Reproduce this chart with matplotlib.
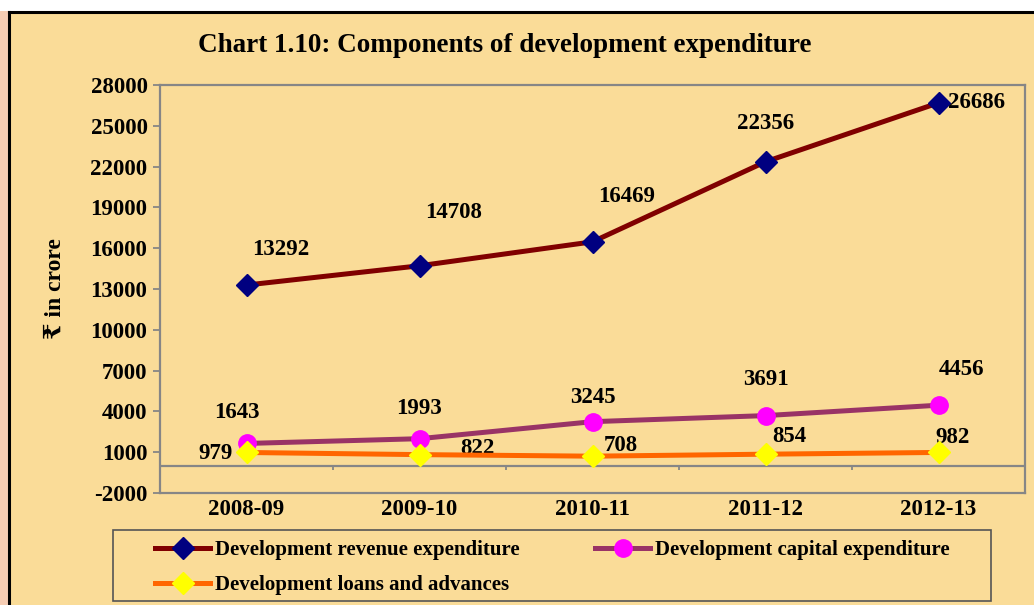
import matplotlib
matplotlib.use("Agg")
import matplotlib.pyplot as plt
import numpy as np
from matplotlib.patches import Rectangle

years = ["2008-09", "2009-10", "2010-11", "2011-12", "2012-13"]
revenue = [13292, 14708, 16469, 22356, 26686]
capital = [1643, 1993, 3245, 3691, 4456]
loans = [979, 822, 708, 854, 982]
yticks = list(range(-2000, 28001, 3000))

BG = "#FADC98"
GRAY = "#868686"
FONT = ["Liberation Serif", "DejaVu Serif", "DejaVu Sans"]
plt.rcParams["font.family"] = FONT
plt.rcParams["font.weight"] = "bold"
plt.rcParams["axes.unicode_minus"] = False

W, H = 1034, 605
fig = plt.figure(figsize=(W / 100, H / 100), dpi=100)
fig.patch.set_facecolor(BG)

# outer page strip + border
fig.patches.append(Rectangle((0, 0), 8 / W, 1, transform=fig.transFigure,
                             facecolor="#F6CDB4", edgecolor="none", zorder=0))
fig.patches.append(Rectangle((0, 1 - 11 / H), 1, 11 / H, transform=fig.transFigure,
                             facecolor="white", edgecolor="none", zorder=0))
fig.lines.append(plt.Line2D([9 / W, 9 / W], [0, 1 - 12 / H], transform=fig.transFigure,
                            color="black", lw=2.2))
fig.lines.append(plt.Line2D([9 / W, 1], [1 - 12 / H, 1 - 12 / H], transform=fig.transFigure,
                            color="black", lw=2.2))

ax = fig.add_axes([160 / W, 1 - 493 / H, (1025 - 160) / W, (493 - 85) / H])
ax.set_facecolor(BG)
x = np.arange(len(years))

l1, = ax.plot(x, revenue, color="#800000", lw=3.6, marker="D", ms=11,
              mfc="#000080", mec="#000080", zorder=3)
l2, = ax.plot(x, capital, color="#993366", lw=3.6, marker="o", ms=12.5,
              mfc="#FF00FF", mec="#FF00FF", zorder=3)
l3, = ax.plot(x, loans, color="#FF6600", lw=3.6, marker="D", ms=11,
              mfc="#FFFF00", mec="#FFFF00", zorder=4)

ax.set_xlim(-0.5, len(years) - 0.5)
ax.set_ylim(yticks[0], yticks[-1])
ax.set_yticks(yticks)
ax.set_xticks(x)
ax.set_xticklabels(years)
ax.tick_params(axis="x", length=0, pad=4, labelsize=16.5)
ax.tick_params(axis="y", length=5, width=1.3, color=GRAY, labelsize=16.5, pad=4)
for lab in ax.get_xticklabels() + ax.get_yticklabels():
    lab.set_fontweight("bold")
for s in ax.spines.values():
    s.set_color(GRAY)
    s.set_linewidth(1.6)

# category axis crossing at zero with boundary ticks
ax.axhline(0, color=GRAY, lw=1.6, zorder=2)
ax.vlines(x[:-1] + 0.5, -300, 0, color=GRAY, lw=1.3, zorder=2)

ax.set_ylabel("₹ in crore", fontsize=17, fontweight="bold", labelpad=18)

# data labels (offsets in pixels)
rev_off = [(34, 36), (34, 53), (34, 45), (0, 38), (38, 0)]
cap_off = [(-10, 31), (0, 30), (0, 24), (0, 36), (23, 36)]
loan_off = [(-31, -1), (58, 6), (28, 11), (24, 18), (14, 15)]
for vals, offs in ((revenue, rev_off), (capital, cap_off), (loans, loan_off)):
    for xi, v, (dx, dy) in zip(x, vals, offs):
        ax.annotate(f"{v}", (xi, v), xytext=(dx, dy), textcoords="offset pixels",
                    ha="center", va="center", fontsize=16.5, fontweight="bold")

fig.text(505 / W, 1 - 46 / H, "Chart 1.10: Components of development expenditure",
         ha="center", va="center", fontsize=19.5, fontweight="bold")

# legend box drawn separately so its size matches the reference
fig.patches.append(Rectangle((113 / W, 1 - 601 / H), (991 - 113) / W, 71 / H,
                             transform=fig.transFigure, facecolor=BG,
                             edgecolor="#555555", lw=1.2, zorder=1))
leg = fig.legend([l1, l3, l2],
                 ["Development revenue expenditure", "Development loans and advances",
                  "Development capital expenditure"],
                 ncol=2, loc="upper left",
                 bbox_to_anchor=(155 / W, 1 - 540 / H),
                 borderaxespad=0, borderpad=0, fontsize=15, frameon=False,
                 handlelength=2.65, handletextpad=0.25, columnspacing=3.6,
                 labelspacing=0.72)
for t in leg.get_texts():
    t.set_fontweight("bold")

fig.savefig("out.png", dpi=100, facecolor=BG)
